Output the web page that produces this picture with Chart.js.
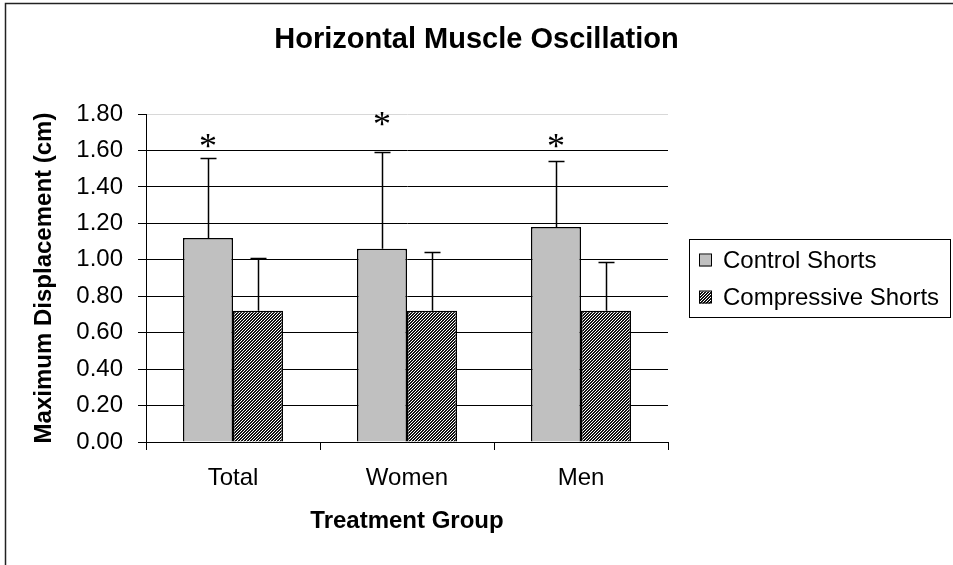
<!DOCTYPE html>
<html>
<head>
<meta charset="utf-8">
<title>Horizontal Muscle Oscillation</title>
<script src="https://cdn.jsdelivr.net/npm/chart.js@4.4.1/dist/chart.umd.min.js"></script>
<style>
  html, body { margin: 0; padding: 0; background: #fff; }
  canvas { display: block; }
</style>
</head>
<body>
<canvas id="muscleChart" width="953" height="565"></canvas>
<script>
// values
const groups = ["Total", "Women", "Men"];
const seriesNames = ["Control Shorts", "Compressive Shorts"];
const controlMeans = [1.12, 1.06, 1.18];
const controlSD = [0.44, 0.53, 0.36];
const compressiveMeans = [0.72, 0.72, 0.72];
const compressiveSD = [0.29, 0.32, 0.27];
const starLevels = [1.65, 1.77, 1.65]; // where the * marks sit
const yTicks = [0, 0.2, 0.4, 0.6, 0.8, 1.0, 1.2, 1.4, 1.6, 1.8];

const FONT = "'Liberation Sans', Arial, sans-serif";
const canvas = document.getElementById("muscleChart");
const ctx = canvas.getContext("2d");

// fine dark diagonal hatch used for the compressive bars
function makeHatch() {
  const c = document.createElement("canvas");
  c.width = 3;
  c.height = 3;
  const g = c.getContext("2d");
  g.fillStyle = "#fff";
  g.fillRect(0, 0, 3, 3);
  g.fillStyle = "#111";
  for (let px = 0; px < 3; px++) {
    for (let py = 0; py < 3; py++) {
      if ((px + py) % 3 !== 2) g.fillRect(px, py, 1, 1);
    }
  }
  return ctx.createPattern(c, "repeat");
}
const hatch = makeHatch();
const fills = ["#c0c0c0", hatch];
const sds = [controlSD, compressiveSD];

// error bars, asterisks, title, legend and frame
const extras = {
  id: "extras",
  beforeDraw(chart) {
    const c = chart.ctx;
    c.save();
    c.fillStyle = "#fff";
    c.fillRect(0, 0, chart.width, chart.height);
    c.strokeStyle = "#222";
    c.lineWidth = 1.5;
    c.strokeRect(5.5, 3.5, chart.width + 20, chart.height + 20);
    c.restore();
  },
  afterDatasetsDraw(chart) {
    const c = chart.ctx;
    const y = chart.scales.y;
    c.save();
    c.strokeStyle = "#000";
    c.lineWidth = 1.5;
    chart.data.datasets.forEach((ds, i) => {
      const meta = chart.getDatasetMeta(i);
      meta.data.forEach((bar, j) => {
        const x = Math.round(bar.x) + 0.5;
        const y0 = y.getPixelForValue(ds.data[j]);
        const y1 = Math.round(y.getPixelForValue(ds.data[j] + sds[i][j])) + 0.5;
        c.beginPath();
        c.moveTo(x, y0);
        c.lineTo(x, y1);
        c.moveTo(x - 8, y1);
        c.lineTo(x + 8, y1);
        c.stroke();
      });
    });
    // significance marks over the control bars
    const ctrl = chart.getDatasetMeta(0);
    c.fillStyle = "#000";
    c.font = "36px 'Liberation Serif', 'Times New Roman', serif";
    c.textAlign = "center";
    c.textBaseline = "alphabetic";
    ctrl.data.forEach((bar, j) => {
      c.fillText("*", bar.x, y.getPixelForValue(starLevels[j]) + 17);
    });
    c.restore();
  },
  afterDraw(chart) {
    const c = chart.ctx;
    c.save();
    c.fillStyle = "#000";
    c.font = "bold 29px " + FONT;
    c.textAlign = "center";
    c.textBaseline = "middle";
    c.fillText("Horizontal Muscle Oscillation", chart.width / 2, 40);

    // legend box
    const bx = 689.5, by = 239.5, bw = 261, bh = 78;
    c.strokeStyle = "#000";
    c.lineWidth = 1;
    c.strokeRect(bx, by, bw, bh);
    c.font = "24px " + FONT;
    c.textAlign = "left";
    seriesNames.forEach((name, i) => {
      const cy = by + 21 + i * 37;
      c.fillStyle = fills[i];
      c.fillRect(699, cy - 6, 12, 12);
      c.strokeRect(699.5, cy - 6.5, 12, 12);
      c.fillStyle = "#000";
      c.fillText(name, 723, cy + 1);
    });
    c.restore();
  }
};

new Chart(ctx, {
  type: "bar",
  data: {
    labels: groups,
    datasets: [
      {
        label: seriesNames[0],
        data: controlMeans,
        backgroundColor: fills[0],
        borderColor: "#000",
        borderWidth: 1.5,
      },
      {
        label: seriesNames[1],
        data: compressiveMeans,
        backgroundColor: fills[1],
        borderColor: "#000",
        borderWidth: 1.5,
      },
    ],
  },
  options: {
    responsive: false,
    animation: false,
    events: [],
    layout: { padding: { left: 0, top: 114, right: 285, bottom: 0 } },
    datasets: { bar: { categoryPercentage: 0.575, barPercentage: 1 } },
    plugins: {
      legend: { display: false },
      tooltip: { enabled: false },
      title: { display: false },
    },
    scales: {
      x: {
        afterFit: (s) => { s.height = 123; },
        grid: { drawOnChartArea: false, offset: true, tickLength: 8, tickColor: "#000", lineWidth: 1 },
        border: { color: "#000", width: 1 },
        ticks: { color: "#000", padding: 14, font: { family: FONT, size: 24 } },
        title: {
          display: true,
          text: "Treatment Group",
          color: "#000",
          font: { family: FONT, size: 24, weight: "bold" },
          padding: { top: 0, bottom: 29 },
        },
      },
      y: {
        min: 0,
        max: 1.8,
        afterFit: (s) => { s.width = 146; },
        afterBuildTicks: (s) => { s.ticks = yTicks.map((v) => ({ value: v })); },
        grid: {
          color: (c) => (c.tick && c.tick.value >= 1.8 ? "#d8d8d8" : "#000"),
          tickColor: "#000",
          tickLength: 8,
          lineWidth: 1,
        },
        border: { color: "#000", width: 1 },
        ticks: {
          color: "#000",
          padding: 15,
          font: { family: FONT, size: 24 },
          callback: (v) => Number(v).toFixed(2),
        },
        title: {
          display: true,
          text: "Maximum Displacement (cm)",
          color: "#000",
          font: { family: FONT, size: 24, weight: "bold" },
          padding: { top: 30, bottom: 0 },
        },
      },
    },
  },
  plugins: [extras],
});
</script>
</body>
</html>
